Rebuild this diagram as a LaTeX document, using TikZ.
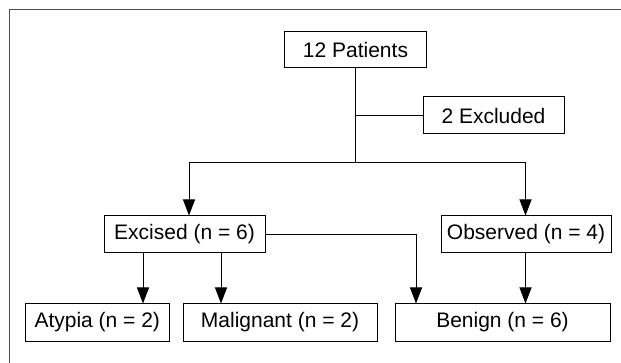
\documentclass[tikz,border=0pt]{standalone}
\usepackage{fontspec}
\setmainfont{Liberation Sans}
\usetikzlibrary{arrows.meta}
\begin{document}
\begin{tikzpicture}[x=1pt,y=-1pt,
  box/.style={draw=black,line width=1pt,inner sep=0pt,minimum height=37pt,
    font=\fontsize{21}{25}\selectfont,text=black},
  line/.style={draw=black,line width=1pt},
  arr/.style={line,-{Triangle[length=16pt,width=12pt]}}]
\useasboundingbox (0,0) rectangle (621,363);
\fill[white] (0,0) rectangle (621,363);
\draw[line width=1.6pt,draw=black!70] (9.5,363) -- (9.5,9.5) -- (621,9.5);
\node[box,minimum width=142pt,minimum height=36pt] (pat) at (355.5,50) {12 Patients};
\node[box,minimum width=141pt] (exc) at (493.5,115.5) {2 Excluded};
\node[box,minimum width=161pt] (excised) at (184.5,234.5) {Excised (n = 6)};
\node[box,minimum width=170pt] (obs) at (526,234.5) {Observed (n = 4)};
\node[box,minimum width=144.5pt] (aty) at (97.25,322.5) {Atypia (n = 2)};
\node[box,minimum width=194pt] (mal) at (280,322.5) {Malignant (n = 2)};
\node[box,minimum width=215pt] (ben) at (502.5,322.5) {Benign (n = 6)};
\coordinate (split) at (355.5,163);
\coordinate (xl) at (189,0);
\coordinate (xr) at (525.5,0);
\coordinate (xa) at (143,0);
\coordinate (xm) at (221,0);
\coordinate (xb) at (416,0);
\draw[line] (pat.south) -- (split);
\draw[line] (pat.south |- exc.west) -- (exc.west);
\draw[arr] (split) -| (excised.north -| xl);
\draw[arr] (split) -| (obs.north -| xr);
\draw[arr] (excised.east) -| (ben.north -| xb);
\draw[arr] (excised.south -| xa) -- (aty.north -| xa);
\draw[arr] (excised.south -| xm) -- (mal.north -| xm);
\draw[arr] (obs.south -| xr) -- (ben.north -| xr);
\end{tikzpicture}
\end{document}
